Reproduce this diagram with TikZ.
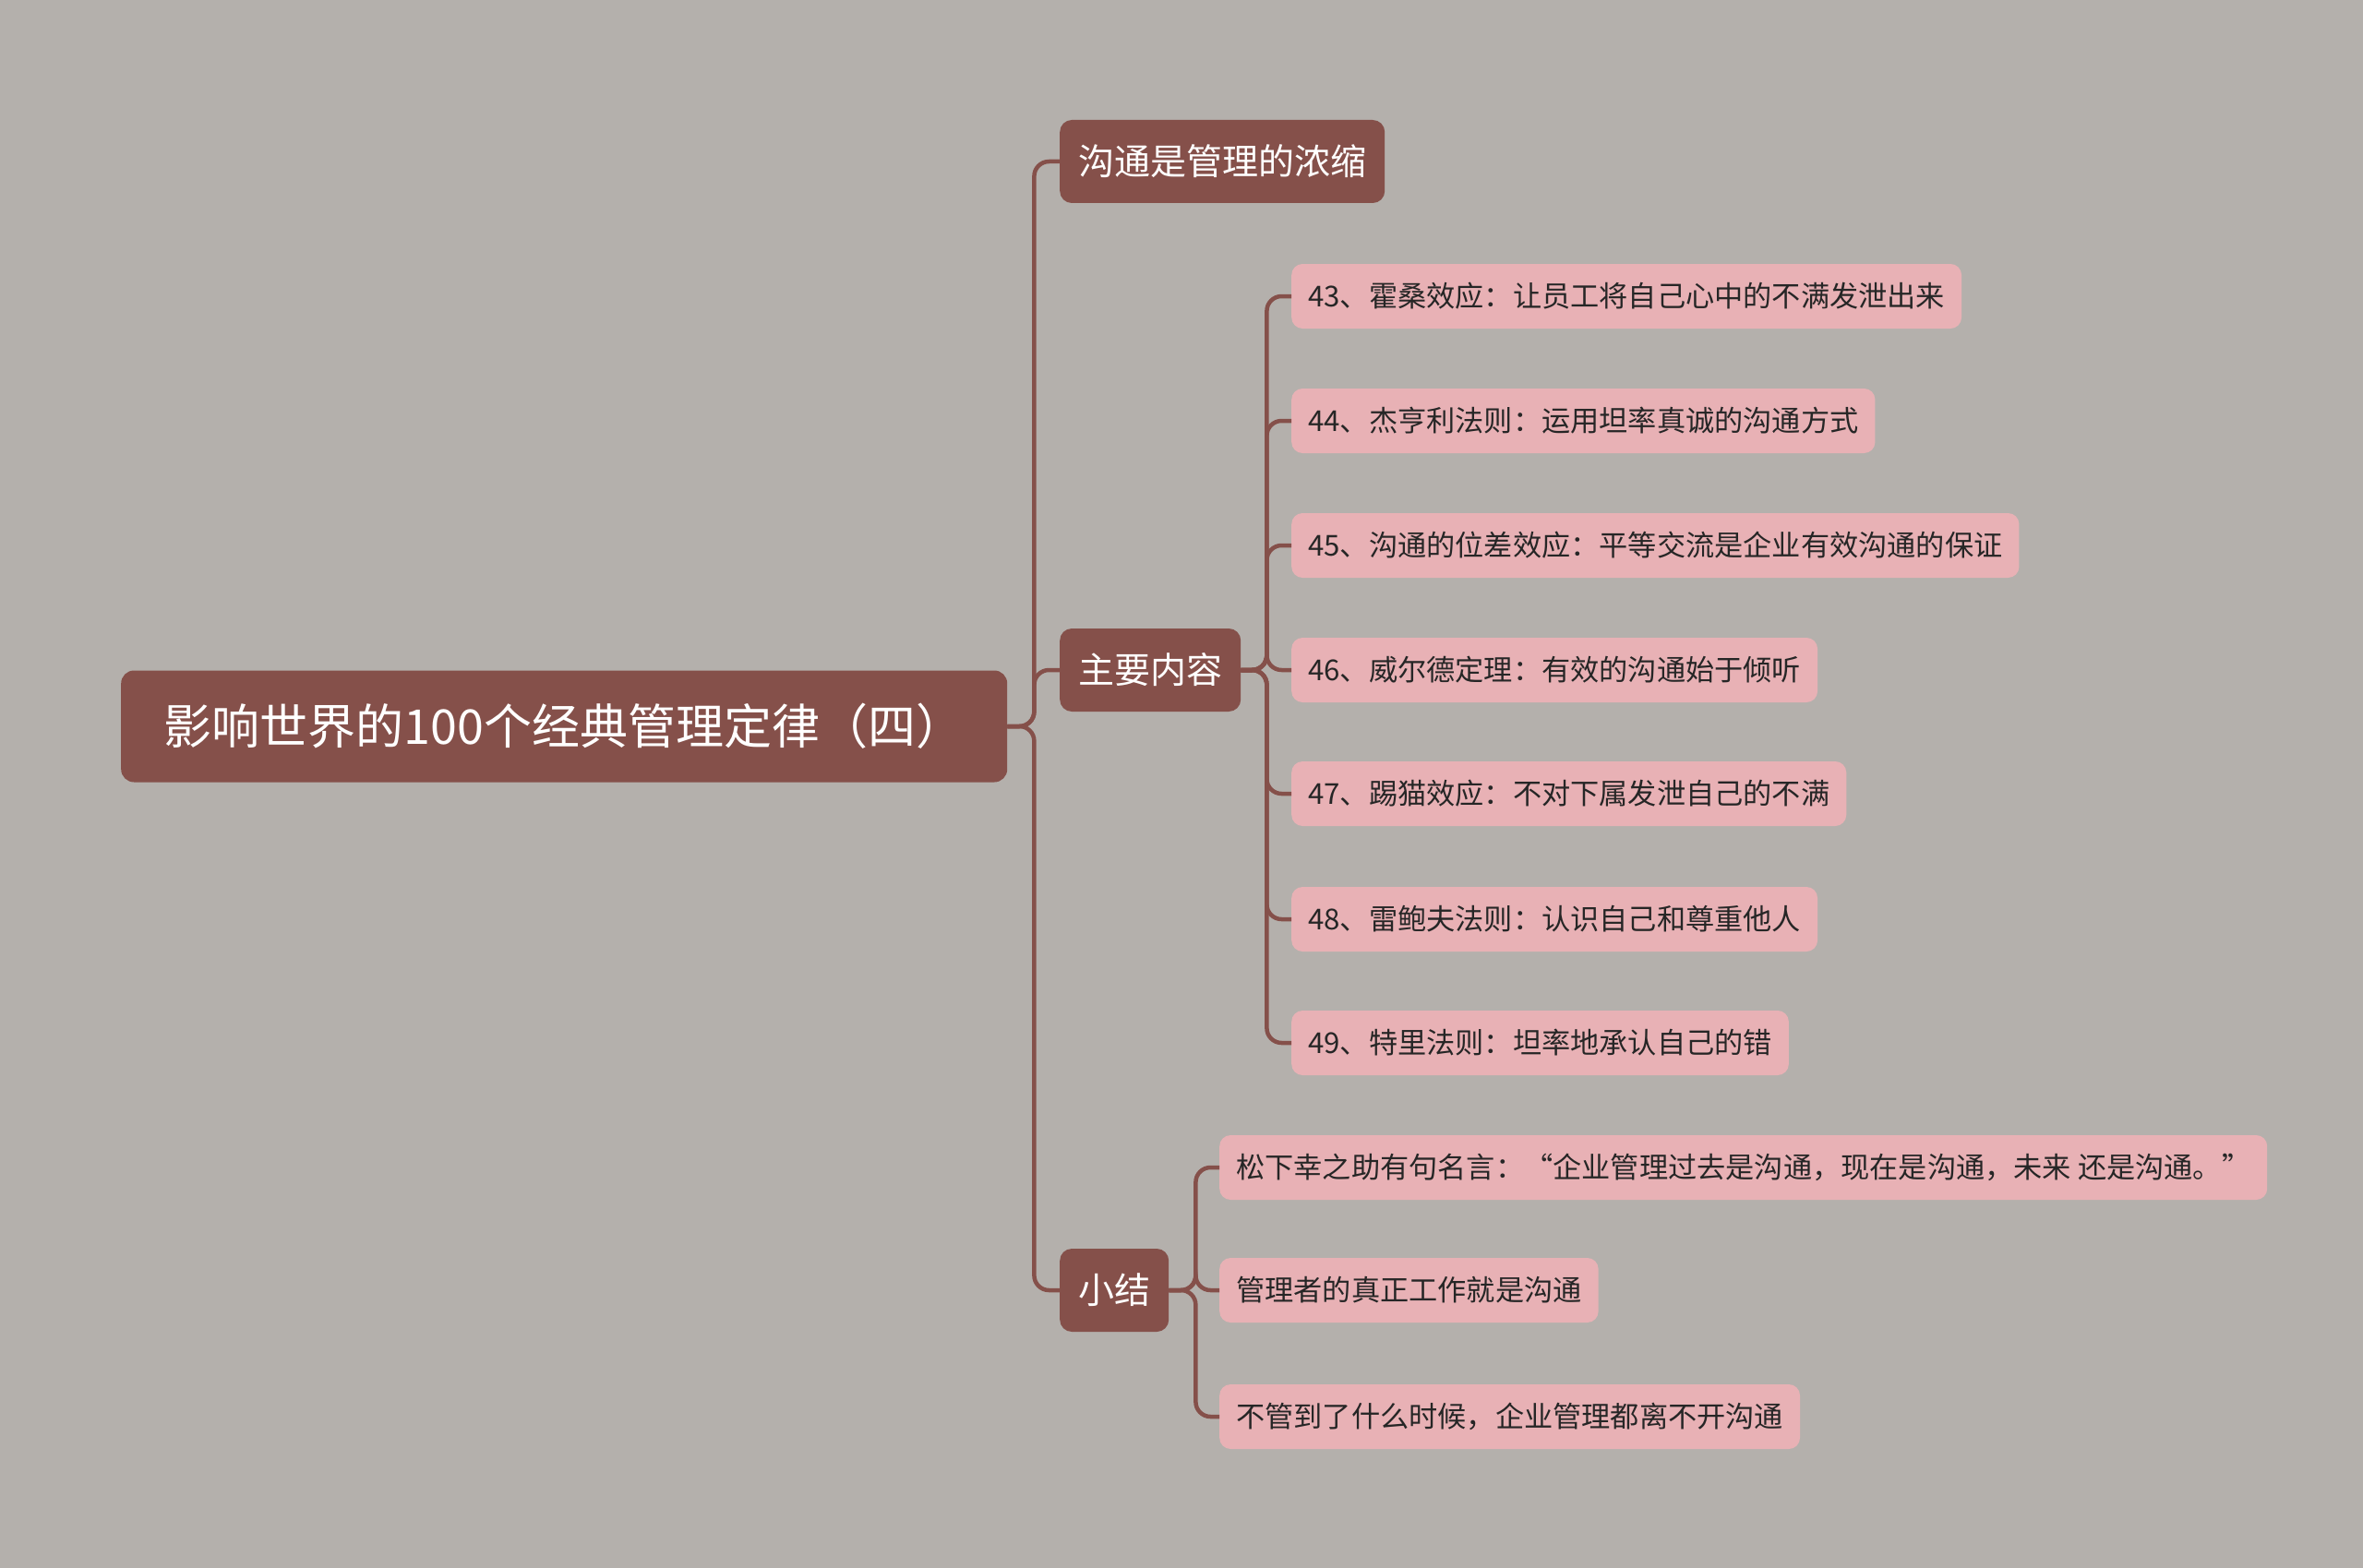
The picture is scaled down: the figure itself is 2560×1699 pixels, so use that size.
\documentclass[tikz,border=0pt]{standalone}
\usepackage{fontspec}
\setmainfont{Noto Sans CJK SC}
\definecolor{bgc}{RGB}{180,176,172}
\definecolor{brn}{RGB}{133,80,74}
\definecolor{pnk}{RGB}{232,177,181}
\tikzset{
  topic/.style={fill=brn,text=white,rounded corners=13pt,inner xsep=20pt,minimum height=90pt,font=\fontsize{39}{45}\selectfont,anchor=west},
  leaf/.style={fill=pnk,text=black!85,rounded corners=12pt,inner xsep=18pt,minimum height=70pt,font=\fontsize{31.2}{37}\selectfont,anchor=west},
  link/.style={draw=brn,line width=4.5pt,rounded corners=16pt}
}
\begin{document}
\begin{tikzpicture}[x=1pt,y=-1pt]
    \fill[bgc] (0,0) rectangle (2560,1699); %Background
    \useasboundingbox (0,0) rectangle (2560,1699);
    \node[topic,font=\fontsize{52}{60}\selectfont,minimum height=121pt,minimum width=960pt,inner xsep=44pt,rounded corners=14pt,align=left] (root) at (131,787) {影响世界的100个经典管理定律（四）\hfill};
    \node[topic] (comm) at (1148,175) {沟通是管理的浓缩};
    \node[topic] (main) at (1148,726) {主要内容};
    \node[topic] (sum) at (1148,1398) {小结};
    \foreach \n in {comm,main,sum} {
        \draw[link] (root.east) -- ++(29,0) |- (\n.west);
    }
    \foreach \i/\py/\t in {43/321/{霍桑效应：让员工将自己心中的不满发泄出来},
        44/456/{杰亨利法则：运用坦率真诚的沟通方式},
        45/591/{沟通的位差效应：平等交流是企业有效沟通的保证},
        46/726/{威尔德定理：有效的沟通始于倾听},
        47/860/{踢猫效应：不对下属发泄自己的不满},
        48/996/{雷鲍夫法则：认识自己和尊重他人},
        49/1130/{特里法则：坦率地承认自己的错}} {
        \node[leaf] (p\i) at (1399,\py) {\i、\t};
        \draw[link] (main.east) -- ++(28,0) |- (p\i.west);
    }
    \node[leaf] (s1) at (1321,1265) {松下幸之助有句名言：“企业管理过去是沟通，现在是沟通，未来 还是沟通。”};
    \node[leaf] (s2) at (1321,1398) {管理者的真正工作就是沟通};
    \node[leaf] (s3) at (1321,1535) {不管到了什么时候，企业管理都离不开沟通};
    \foreach \n in {s1,s2,s3} {
        \draw[link] (sum.east) -- ++(29,0) |- (\n.west);
    }
\end{tikzpicture}
\end{document}
